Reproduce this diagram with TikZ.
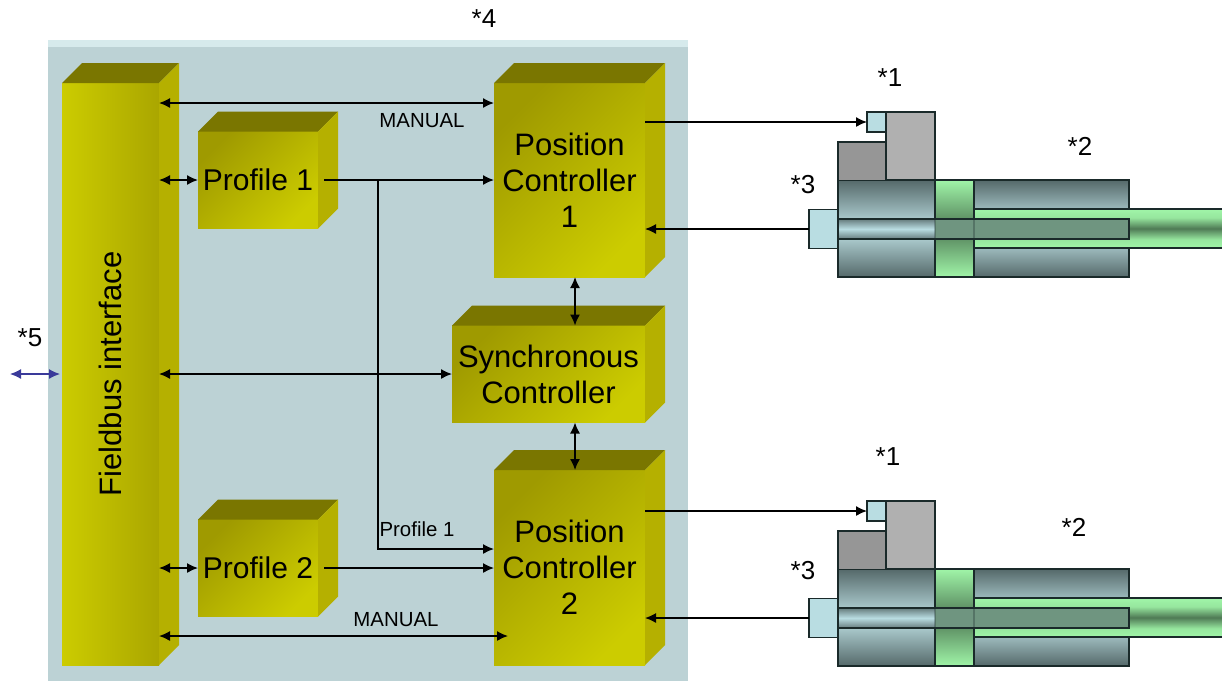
\documentclass[tikz,border=0pt]{standalone}
\usepackage{fontspec}
\setmainfont{Liberation Sans}
\usetikzlibrary{arrows.meta, positioning, calc}

\definecolor{panelblue}{HTML}{BCD2D5}
\definecolor{panellight}{HTML}{D6EAEC}
\definecolor{oliveA}{HTML}{CCCC00}
\definecolor{oliveB}{HTML}{9F9A00}
\definecolor{oliveC}{HTML}{AAA600}
\definecolor{oliveside}{HTML}{B5B000}
\definecolor{olivetop}{HTML}{7A7600}
\definecolor{sensorblue}{HTML}{B9DDE2}
\definecolor{steeldark}{HTML}{55696A}
\definecolor{steellight}{HTML}{A9C8CB}
\definecolor{greenlight}{HTML}{A0F5A8}
\definecolor{greendark}{HTML}{4F7A55}
\definecolor{tubegreen}{HTML}{6F9580}
\definecolor{edgedark}{HTML}{1A2A2A}
\definecolor{linkblue}{HTML}{3A3A9A}

\pgfdeclareverticalshading{rodshade}{100bp}{
    color(0bp)=(greenlight); color(25bp)=(greenlight); color(36bp)=(greenlight!88!greendark);
    color(50bp)=(greendark);
    color(64bp)=(greenlight!88!greendark); color(75bp)=(greenlight); color(100bp)=(greenlight)}

\tikzset{
    blockbox/.style={inner sep=0pt, outer sep=0pt, align=center,
        font=\fontsize{31}{36}\selectfont,
        left color=oliveB, right color=oliveA, shading angle=45},
    smalltext/.style={inner sep=0pt, font=\fontsize{20.4}{24}\selectfont},
    marktext/.style={inner sep=0pt, font=\fontsize{26}{30}\selectfont},
    link/.style={line width=1.5pt, >={Latex[length=11pt,width=10pt]}},
    partbox/.style={draw=edgedark, line width=1.2pt, inner sep=0pt, outer sep=0pt},
}

\begin{document}
\begin{tikzpicture}[x=1pt, y=-1pt]
    \useasboundingbox (0,0) rectangle (1222,681);

    % Panel
    \fill[panellight] (48,40) rectangle (688,681);
    \fill[panelblue] (48,47) rectangle (688,681);

    % Blocks
    \node[blockbox, minimum width=97pt, minimum height=582pt, left color=oliveA, right color=oliveC, shading angle=90]
        (fieldbus) at (110.5,374) {\rotatebox{90}{Fieldbus interface}};
    \node[blockbox, font=\fontsize{30}{36}\selectfont, minimum width=120pt, minimum height=97pt] (prof1) at (258,180) {Profile 1};
    \node[blockbox, font=\fontsize{30}{36}\selectfont, minimum width=120pt, minimum height=97pt] (prof2) at (258,568) {Profile 2};
    \node[blockbox, minimum width=151pt, minimum height=194pt] (pc1) at (569.5,180) {Position\\Controller\\1};
    \node[blockbox, minimum width=193pt, minimum height=97pt] (sync) at (548.5,374) {Synchronous\\Controller};
    \node[blockbox, minimum width=151pt, minimum height=195pt] (pc2) at (569.5,567.5) {Position\\Controller\\2};

    % Top and side faces
    \foreach \b in {fieldbus, prof1, prof2, pc1, sync, pc2} {
        \fill[olivetop] (\b.north west) -- ($(\b.north west)+(20,-20)$) -- ($(\b.north east)+(20,-20)$) -- (\b.north east) -- cycle;
        \fill[oliveside] (\b.north east) -- ($(\b.north east)+(20,-20)$) -- ($(\b.south east)+(20,-20)$) -- (\b.south east) -- cycle;
    }

    % Actuators
    \foreach \act/\dy in {a/0, b/389} {
        \begin{scope}[shift={(0,\dy)}]
            \shade[top color=steeldark, bottom color=steellight] (838,180) rectangle (935,219);
            \shade[top color=steellight, bottom color=steeldark] (838,239) rectangle (935,277);
            \shade[top color=steeldark, bottom color=steellight!85!steeldark] (974,180) rectangle (1129,209);
            \shade[top color=steellight!85!steeldark, bottom color=steeldark] (974,248) rectangle (1129,277);
            \shade[top color=greenlight, bottom color=greenlight, middle color=greendark] (935,180) rectangle (974,277);
            \shade[shading=rodshade] (974,209) rectangle (1222,248);
            \draw[edgedark, line width=1.2pt] (974,209) -- (1222,209) (974,248) -- (1222,248);
            \draw[edgedark, line width=1.2pt] (1129,209) -- (1129,180) -- (838,180) -- (838,277) -- (1129,277) -- (1129,248);
            \draw[edgedark, line width=1.2pt] (935,180) -- (935,277) (974,180) -- (974,277);
            % Sensor tube
            \shade[top color=steeldark!80!steellight, bottom color=steeldark!80!steellight, middle color=sensorblue] (838,219) rectangle (935,239);
            \fill[tubegreen] (935,219) rectangle (1129,239);
            \draw[edgedark, line width=1.2pt, opacity=.3] (935,219) -- (935,239) (974,219) -- (974,239);
            \draw[edgedark, line width=1.2pt] (838,219) rectangle (1129,239);
            % Valve and sensor
            \fill[black!41] (838,142) rectangle (886,180);
            \draw[edgedark, line width=1.2pt] (838,180) -- (838,142) -- (886,142);
            \node[partbox, fill=black!31, minimum width=49pt, minimum height=68pt] (\act body) at (910.5,146) {};
            \node[partbox, fill=sensorblue, minimum width=19pt, minimum height=20pt] (\act valve) at (876.5,122) {};
            \node[partbox, fill=sensorblue, minimum width=29pt, minimum height=39pt] (\act sensor) at (823.5,229) {};
        \end{scope}
    }

    % Links inside the panel
    \draw[link, <->] (fieldbus.east |- 0,103) -- (pc1.west |- 0,103);
    \draw[link, <->] (fieldbus.east |- prof1) -- (prof1.west);
    \draw[link, <->] (fieldbus.east |- prof2) -- (prof2.west);
    \draw[link, <->] (fieldbus.east |- sync) -- (sync.west);
    \draw[link, <->] (fieldbus.east |- 0,636) -- (508,636);
    \draw[link, ->] ([xshift=6]prof1.east) -- (pc1.west |- prof1);
    \draw[link, ->] (378,180) |- (pc2.west |- 0,549);
    \draw[link, ->] ([xshift=6]prof2.east) -- (pc2.west |- prof2);
    \draw[link, <->] ([xshift=5.5]pc1.south) -- ([xshift=5.5]pc1.south |- sync.north);
    \draw[link, <->] ([xshift=5.5]pc2.north) -- ([xshift=5.5]pc2.north |- sync.south);

    % Links to the actuators
    \foreach \act/\ctrl in {a/pc1, b/pc2} {
        \draw[link, ->] (\ctrl.east |- \act valve) -- (\act valve.west);
        \draw[link, ->] (\act sensor.west) -- (\ctrl.east |- \act sensor);
    }

    % Fieldbus link
    \coordinate (busend) at (10,374);
    \draw[link, <->, linkblue, line width=1.3pt] (busend) -- (60,374);

    % Labels
    \node[smalltext] (man1) at (422,121) {MANUAL};
    \node[smalltext] (man2) at (396,620) {MANUAL};
    \node[smalltext] (proflabel) at (417,529) {Profile 1};
    \node[marktext] (m4) at (484,19) {*4};
    \node[marktext] (m5) at (30,338) {*5};
    \node[marktext] (m1a) at (890,78) {*1};
    \node[marktext] (m2a) at (1080,146) {*2};
    \node[marktext] (m3a) at (803,185) {*3};
    \node[marktext] (m1b) at (888,457) {*1};
    \node[marktext] (m2b) at (1074,527) {*2};
    \node[marktext] (m3b) at (803,571) {*3};
\end{tikzpicture}
\end{document}
